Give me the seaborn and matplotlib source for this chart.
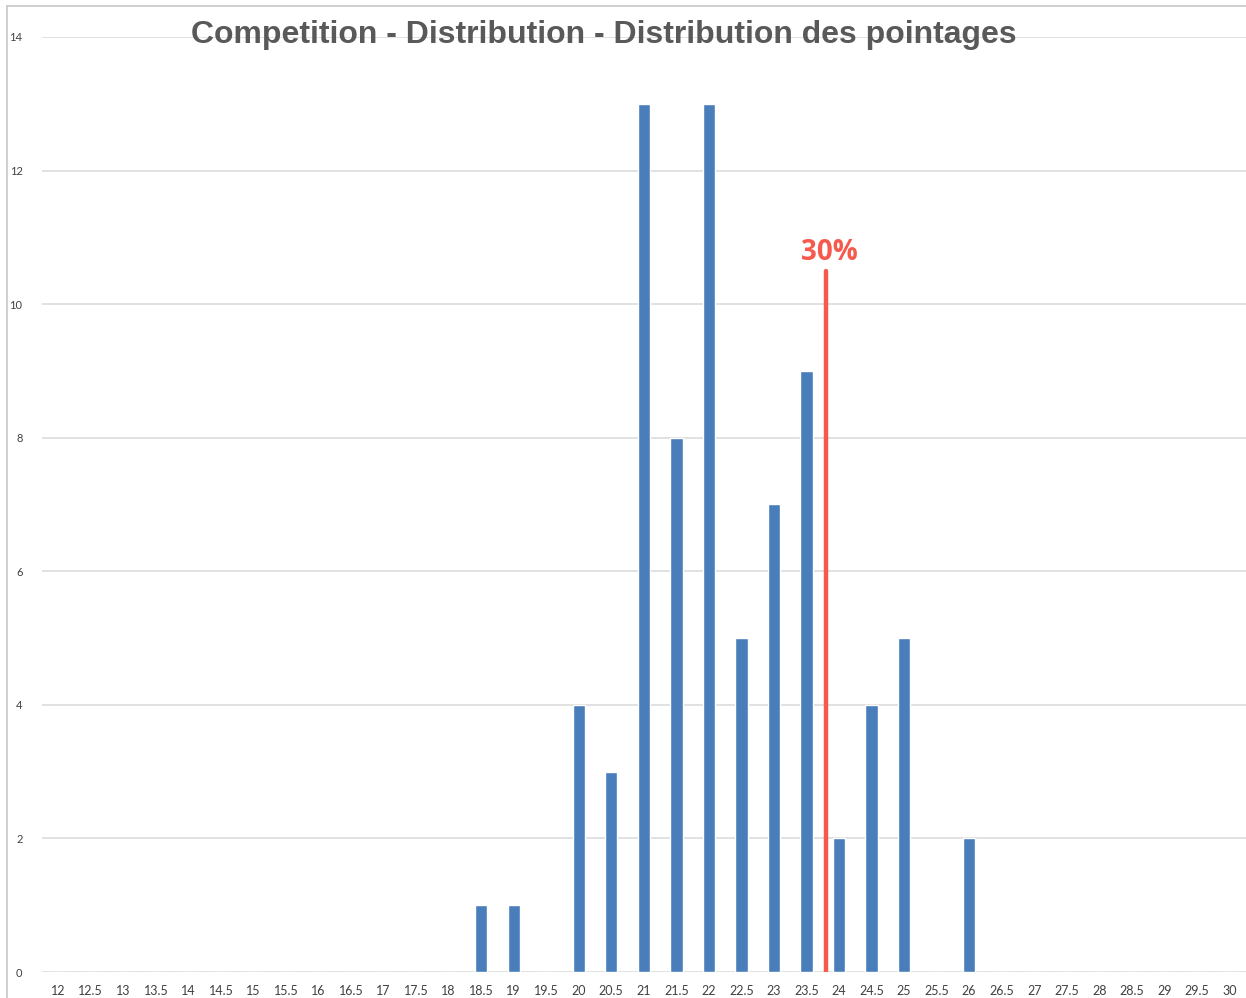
import numpy as np
import pandas as pd
import matplotlib
matplotlib.use("Agg")
import matplotlib.pyplot as plt
import seaborn as sns
from matplotlib.lines import Line2D

# scores from 12 to 30 in steps of 0.5
score_labels = ["12", "12.5", "13", "13.5", "14", "14.5", "15", "15.5", "16", "16.5",
                "17", "17.5", "18", "18.5", "19", "19.5", "20", "20.5", "21", "21.5",
                "22", "22.5", "23", "23.5", "24", "24.5", "25", "25.5", "26", "26.5",
                "27", "27.5", "28", "28.5", "29", "29.5", "30"]
counts = [0, 0, 0, 0, 0, 0, 0, 0, 0, 0,
          0, 0, 0, 1, 1, 0, 4, 3, 13, 8,
          13, 5, 7, 9, 2, 4, 5, 0, 2, 0,
          0, 0, 0, 0, 0, 0, 0]
y_ticks = [0, 2, 4, 6, 8, 10, 12, 14]

cutoff_score = 23.8   # position of the 30% marker on the score scale
cutoff_height = 10.5
cutoff_label = "30%"

df = pd.DataFrame({"Score": score_labels, "Count": counts})

sns.set_theme(style="white")
plt.rcParams['font.family'] = ['Lato', 'DejaVu Sans']

fig = plt.figure(figsize=(12.46, 9.98), dpi=100)
ax = fig.add_axes([0.0337, 0.026, 0.966, 0.937])

sns.barplot(data=df, x="Score", y="Count", order=score_labels, color="#4A7EBB",
            saturation=1, width=0.38, ax=ax, zorder=3)

ax.set_ylim(0, 14)
ax.set_xlim(-0.5, len(score_labels) - 0.5)
ax.set_yticks(y_ticks)
ax.yaxis.grid(True, color="#D9D9D9", linewidth=1.1, zorder=0)
ax.set_axisbelow(True)
for s in ax.spines.values():
    s.set_visible(False)
ax.tick_params(axis="both", length=0, colors="#404040")
ax.tick_params(axis="y", pad=14, labelsize=8)
ax.tick_params(axis="x", pad=9, labelsize=9)
ax.set_xlabel("")
ax.set_ylabel("")

# cutoff marker
cut_pos = (cutoff_score - float(score_labels[0])) / 0.5
ax.vlines(cut_pos, -0.05, cutoff_height, color="#F65A4D", linewidth=3.2, zorder=4,
          capstyle="round")
ax.text(cut_pos + 0.1, cutoff_height + 0.05, cutoff_label, color="#F65A4D",
        fontsize=20, fontweight="bold", ha="center", va="bottom",
        family=["Open Sans", "DejaVu Sans"])

fig.text(0.485, 0.965, "Competition - Distribution - Distribution des pointages",
         ha="center", va="center", fontsize=23, fontweight="bold", color="#595959",
         family=["Liberation Sans", "DejaVu Sans"])

# thin frame of the original screenshot
fig.add_artist(Line2D([0.006, 0.006], [0, 0.994], transform=fig.transFigure,
                      color="#C8C8C8", linewidth=1.2))
fig.add_artist(Line2D([0.006, 1], [0.994, 0.994], transform=fig.transFigure,
                      color="#C8C8C8", linewidth=1.2))

fig.savefig("out.png", dpi=100)
